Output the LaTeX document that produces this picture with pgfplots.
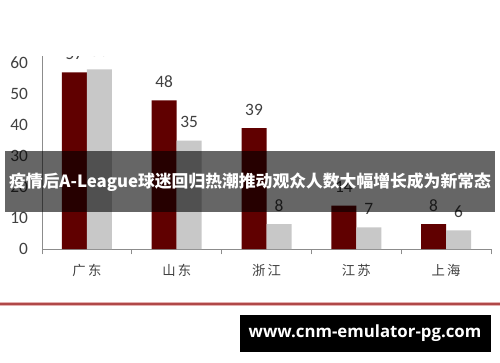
\documentclass[border=0pt]{standalone}
\usepackage{fontspec}
\setmainfont{Carlito}
\newfontfamily\cjk{Noto Sans CJK SC}
\newfontfamily\webfont{Open Sans}
\usepackage{pgfplots}
\pgfplotsset{compat=1.18}
\definecolor{darkred}{HTML}{600000}
\definecolor{lgray}{HTML}{C8C8C8}
\definecolor{axgray}{HTML}{8C8C8C}
\definecolor{txt}{HTML}{404040}
\definecolor{lineRed}{HTML}{B04848}
\definecolor{linePink}{HTML}{E4B0B0}
\begin{document}
\begin{tikzpicture}
\path[use as bounding box, fill=white] (0,0) rectangle (375pt,271.5pt);
\begin{axis}[
  at={(31.5pt,84.75pt)}, anchor=south west,
  scale only axis, width=336.75pt, height=144.75pt,
  ymin=0, ymax=62.3, xmin=-0.5, xmax=4.5,
  ybar=0pt, bar width=18.75pt,
  axis lines*=left,
  axis line style={draw=axgray, line width=0.75pt},
  xtick={-0.5,0.5,1.5,2.5,3.5,4.5},
  xticklabels={广\,东,山\,东,浙\,江,江\,苏,上\,海,{}},
  x tick label as interval,
  ytick={0,10,20,30,40,50,60},
  tick align=outside, major tick length=4pt,
  xtick style={draw=axgray, line width=0.75pt},
  ytick style={draw=none},
  xticklabel style={font=\cjk\fontsize{10}{12}\selectfont, text=txt, yshift=-4pt},
  yticklabel style={font=\fontsize{13}{15}\selectfont, text=txt, xshift=-3pt},
  /pgf/number format/assume math mode=true,
  nodes near coords,
  nodes near coords style={font=\fontsize{13}{15}\selectfont, text=txt, anchor=south, yshift=6pt},
  clip=false,
]
\addplot[fill=darkred, draw=none] coordinates {(0,57) (1,48) (2,39) (3,14) (4,8)};
\addplot[fill=lgray, draw=none] coordinates {(0,58) (1,35) (2,8) (3,7) (4,6)};
\end{axis}
\begin{scope}[x=0.75pt, y=-0.75pt, yshift=271.5pt]
  % cropped top area
  \fill[white] (0,0) rectangle (500,56);
  % banner
  \fill[black, opacity=0.6] (5,151) rectangle (495,212);
  \node[text=white, font=\cjk\bfseries\fontsize{12.6}{14}\selectfont, inner sep=0pt] at (250,182)
    {疫情后A-League球迷回归热潮推动观众人数大幅增长成为新常态};
  % red line
  \draw[linePink, line width=3pt] (0,304) -- (500,304);
  \draw[lineRed, line width=1.2pt] (0,304) -- (500,304);
  % website box
  \fill[black] (240,315) rectangle (491,352);
  \node[text=white, font=\webfont\bfseries\fontsize{12.6}{14}\selectfont, inner sep=0pt] at (365,333)
    {www.cnm-emulator-pg.com};
\end{scope}
\end{tikzpicture}
\end{document}
